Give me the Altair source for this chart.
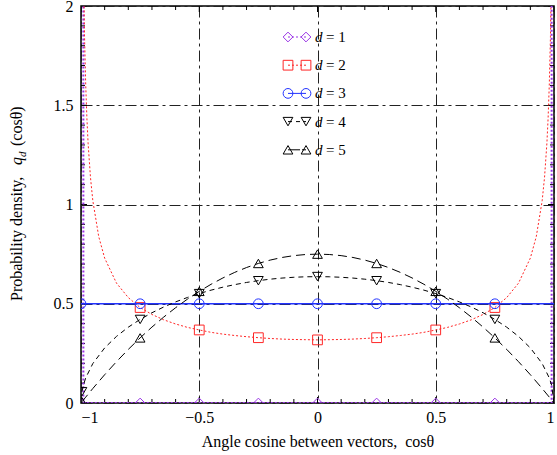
import altair as alt
import pandas as pd

# ---- curve samples -------------------------------------------------------
# d = 1: point masses at the two ends, drawn as spikes plus the zero floor
d1_x = [-0.99, -0.99, 0.99, 0.99]
d1_y = [2.3, 0.0, 0.0, 2.3]

# d = 2: U-shaped density, diverging at the ends
d2_x = [-0.995, -0.99, -0.985, -0.98, -0.975, -0.97, -0.96, -0.95, -0.925, -0.9,
        -0.85, -0.8, -0.75, -0.7, -0.65, -0.6, -0.55, -0.5, -0.45, -0.4, -0.35,
        -0.3, -0.25, -0.2, -0.15, -0.1, -0.05, 0.0, 0.05, 0.1, 0.15, 0.2, 0.25,
        0.3, 0.35, 0.4, 0.45, 0.5, 0.55, 0.6, 0.65, 0.7, 0.75, 0.8, 0.85,
        0.9, 0.925, 0.95, 0.96, 0.97, 0.975, 0.98, 0.985, 0.99, 0.995]
d2_y = [3.187, 2.256, 1.845, 1.600, 1.433, 1.309, 1.137, 1.019, 0.838, 0.730,
        0.604, 0.531, 0.481, 0.446, 0.419, 0.398, 0.381, 0.368, 0.356, 0.347, 0.340,
        0.334, 0.329, 0.325, 0.322, 0.320, 0.319, 0.318, 0.319, 0.320, 0.322, 0.325, 0.329,
        0.334, 0.340, 0.347, 0.356, 0.368, 0.381, 0.398, 0.419, 0.446, 0.481, 0.531, 0.604,
        0.730, 0.838, 1.019, 1.137, 1.309, 1.433, 1.600, 1.845, 2.256, 3.187]

# d = 3: flat density
d3_x = [-1.0, 1.0]
d3_y = [0.5, 0.5]

# d = 4 and d = 5: bell-shaped densities
bell_x = [-0.996, -0.99, -0.98, -0.95, -0.9,
          -0.85, -0.8, -0.75, -0.7, -0.65, -0.6, -0.55, -0.5, -0.45, -0.4, -0.35,
          -0.3, -0.25, -0.2, -0.15, -0.1, -0.05, 0.0, 0.05, 0.1, 0.15, 0.2, 0.25,
          0.3, 0.35, 0.4, 0.45, 0.5, 0.55, 0.6, 0.65, 0.7, 0.75, 0.8, 0.85,
          0.9, 0.95, 0.98, 0.99, 1.0]
d4_y = [0.057, 0.0898, 0.1267, 0.1988, 0.2775,
        0.3354, 0.3820, 0.4211, 0.4546, 0.4838, 0.5093, 0.5317, 0.5513, 0.5685, 0.5835, 0.5964,
        0.6073, 0.6164, 0.6238, 0.6294, 0.6334, 0.6358, 0.6366, 0.6358, 0.6334, 0.6294, 0.6238, 0.6164,
        0.6073, 0.5964, 0.5835, 0.5685, 0.5513, 0.5317, 0.5093, 0.4838, 0.4546, 0.4211, 0.3820, 0.3354,
        0.2775, 0.1988, 0.1267, 0.0898, 0.0]
d5_y = [0.006, 0.0149, 0.0297, 0.0731, 0.1425,
        0.2081, 0.2700, 0.3281, 0.3825, 0.4331, 0.4800, 0.5231, 0.5625, 0.5981, 0.6300, 0.6581,
        0.6825, 0.7031, 0.7200, 0.7331, 0.7425, 0.7481, 0.7500, 0.7481, 0.7425, 0.7331, 0.7200, 0.7031,
        0.6825, 0.6581, 0.6300, 0.5981, 0.5625, 0.5231, 0.4800, 0.4331, 0.3825, 0.3281, 0.2700, 0.2081,
        0.1425, 0.0731, 0.0297, 0.0149, 0.0]

# ---- marker samples ------------------------------------------------------
mk_x = [-1.0, -0.75, -0.5, -0.25, 0.0, 0.25, 0.5, 0.75]
d1_mk = [0.0, 0.0, 0.0, 0.0, 0.0, 0.0, 0.0, 0.0]
d2_mk_x = [-0.75, -0.5, -0.25, 0.0, 0.25, 0.5, 0.75]
d2_mk = [0.481, 0.368, 0.329, 0.318, 0.329, 0.368, 0.481]
d3_mk = [0.5, 0.5, 0.5, 0.5, 0.5, 0.5, 0.5, 0.5]
bell_mk_x = [-0.996, -0.75, -0.5, -0.25, 0.0, 0.25, 0.5, 0.75]
d4_mk = [0.057, 0.421, 0.551, 0.616, 0.637, 0.616, 0.551, 0.421]
d5_mk = [0.006, 0.328, 0.5625, 0.703, 0.75, 0.703, 0.5625, 0.328]

# ---- axis ticks ----------------------------------------------------------
x_major = [-1.0, -0.5, 0.0, 0.5, 1.0]
x_minor = [-0.9, -0.8, -0.7, -0.6, -0.4, -0.3, -0.2, -0.1,
           0.1, 0.2, 0.3, 0.4, 0.6, 0.7, 0.8, 0.9]
y_major = [0.0, 0.5, 1.0, 1.5, 2.0]
y_minor = [0.1, 0.2, 0.3, 0.4, 0.6, 0.7, 0.8, 0.9,
           1.1, 1.2, 1.3, 1.4, 1.6, 1.7, 1.8, 1.9]

legend_labels = ["= 1", "= 2", "= 3", "= 4", "= 5"]

SERIF = "Liberation Serif"
PURPLE = "#9933e6"
RED = "#ff2626"
BLUE = "#2233ff"
BLACK = "#000000"

xscale = alt.Scale(domain=[-1, 1], nice=False, zero=False)
yscale = alt.Scale(domain=[0, 2], nice=False, zero=False)

xaxis = alt.Axis(values=x_major, format="~g", grid=True, gridDash=[11, 4, 3, 4],
                 gridColor="#222222", gridWidth=1, ticks=False, domain=False,
                 labelFont=SERIF, labelFontSize=16, labelColor="black", labelPadding=6,
                 titleFont=SERIF, titleFontSize=16, titleFontWeight="normal",
                 titleColor="black", titlePadding=8)
yaxis = alt.Axis(values=y_major, format="~g", grid=True, gridDash=[11, 4, 3, 4],
                 gridColor="#222222", gridWidth=1, ticks=False, domain=False,
                 labelFont=SERIF, labelFontSize=16, labelColor="black", labelPadding=8,
                 title=None)

X = alt.X("x:Q", scale=xscale, axis=xaxis, title="Angle cosine between vectors,\u00a0 cos\u03b8")
Y = alt.Y("y:Q", scale=yscale, axis=yaxis, title=None)


def curve(xs, ys, color, dash, width):
    df = pd.DataFrame({"x": xs, "y": ys, "i": list(range(len(xs)))})
    kw = dict(color=color, strokeWidth=width, clip=True)
    if dash:
        kw["strokeDash"] = dash
    return alt.Chart(df).mark_line(**kw).encode(x=X, y=Y, order=alt.Order("i:Q"))


def markers(xs, ys, color, shape):
    df = pd.DataFrame({"x": xs, "y": ys})
    return alt.Chart(df).mark_point(shape=shape, size=95, filled=False, color=color,
                                    strokeWidth=1, opacity=1, clip=True).encode(x=X, y=Y)


series = [
    # (curve x, curve y, marker x, marker y, color, shape, dash, width)
    (d1_x, d1_y, mk_x, d1_mk, PURPLE, "diamond", [2, 2], 2),
    (d2_x, d2_y, d2_mk_x, d2_mk, RED, "square", [2, 2], 1),
    (d3_x, d3_y, mk_x, d3_mk, BLUE, "circle", None, 1.5),
    (bell_x, d4_y, bell_mk_x, d4_mk, BLACK, "triangle-down", [5, 4], 1),
    (bell_x, d5_y, bell_mk_x, d5_mk, BLACK, "triangle-up", [9, 5], 1),
]
legend_dash = [[2, 2], [2, 2], None, [4, 4], [12, 2]]

layers = []

# inward tick marks on all four sides (half of each tick is clipped away)
xt_major = pd.DataFrame({"x": x_major * 2, "y": [0.0] * len(x_major) + [2.0] * len(x_major)})
xt_minor = pd.DataFrame({"x": x_minor * 2, "y": [0.0] * len(x_minor) + [2.0] * len(x_minor)})
yt_major = pd.DataFrame({"y": y_major * 2, "x": [-1.0] * len(y_major) + [1.0] * len(y_major)})
yt_minor = pd.DataFrame({"y": y_minor * 2, "x": [-1.0] * len(y_minor) + [1.0] * len(y_minor)})
for df, orient, size in [(xt_major, "vertical", 12), (xt_minor, "vertical", 8),
                         (yt_major, "horizontal", 12), (yt_minor, "horizontal", 8)]:
    layers.append(alt.Chart(df).mark_tick(orient=orient, size=size, thickness=1,
                                          color="black", opacity=1, clip=True)
                  .encode(x=X, y=Y))

for cx, cy, mx, my, color, shape, dash, width in series:
    layers.append(curve(cx, cy, color, dash, width))
    layers.append(markers(mx, my, color, shape))

# legend block inside the plot
one = pd.DataFrame({"k": [0]})
for i, (cx, cy, mx, my, color, shape, dash, width) in enumerate(series):
    yy = 31 + i * 28.2
    rule_kw = dict(color=color, strokeWidth=1)
    if legend_dash[i]:
        rule_kw["strokeDash"] = legend_dash[i]
    layers.append(alt.Chart(one).mark_rule(**rule_kw).encode(
        x=alt.value(207), x2=alt.value(225), y=alt.value(yy)))
    for px in (207, 225):
        layers.append(alt.Chart(one).mark_point(shape=shape, size=95, filled=False, color=color,
                                                strokeWidth=1, opacity=1).encode(
            x=alt.value(px), y=alt.value(yy)))
    layers.append(alt.Chart(one).mark_text(align="left", baseline="middle", font=SERIF,
                                           fontSize=15, fontStyle="italic", color="black").encode(
        x=alt.value(234), y=alt.value(yy), text=alt.value("d")))
    layers.append(alt.Chart(one).mark_text(align="left", baseline="middle", font=SERIF,
                                           fontSize=15, color="black").encode(
        x=alt.value(245), y=alt.value(yy), text=alt.value(legend_labels[i])))

# vertical axis title with an italic subscripted q_d
title_x = -59
start = 295
pieces = [
    ("Probability density,", 0, 16, "normal", 0),
    ("q", 136, 16, "italic", 0),
    ("d", 144, 11, "italic", 4),
    ("(cos\u03b8)", 155, 16, "normal", 0),
]
for txt, off, fs, style, dy in pieces:
    layers.append(alt.Chart(one).mark_text(align="left", baseline="alphabetic", angle=270,
                                           font=SERIF, fontSize=fs, fontStyle=style,
                                           dy=dy, color="black").encode(
        x=alt.value(title_x), y=alt.value(start - off), text=alt.value(txt)))

chart = alt.layer(*layers).properties(
    width=473, height=397,
    autosize=alt.AutoSizeParams(type="none"),
    padding={"left": 81, "top": 6, "right": 3, "bottom": 52},
).configure_view(stroke="black", strokeWidth=1.5)

chart.save("out.html", embed_options={"renderer": "svg", "actions": False})
